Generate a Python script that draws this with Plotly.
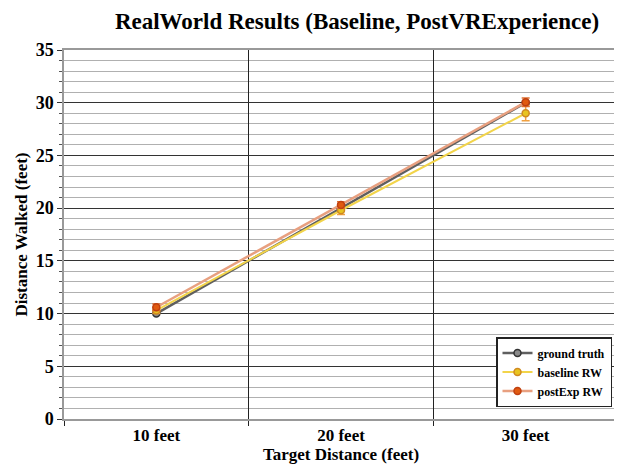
import plotly.graph_objects as go

categories = ["10 feet", "20 feet", "30 feet"]
ground_truth = [10, 20, 30]
baseline_rw = [10.3, 19.8, 29.0]
baseline_err = [0.3, 0.4, 0.7]
postexp_rw = [10.6, 20.3, 30.05]
postexp_err = [0.3, 0.3, 0.4]
y_ticks = [0, 5, 10, 15, 20, 25, 30, 35]

SERIF = "Liberation Serif"
B = lambda s: f"<b>{s}</b>"

# page body has an 8px offset; figure coords = screen coords - 8
OFF = 8
PL, PR, PT, PB = 64 - OFF, 618 - OFF, 50 - OFF, 419 - OFF
W, H = 622, 466
PW, PH = PR - PL, PB - PT

fig = go.Figure()
fig.add_trace(go.Scatter(
    x=categories, y=ground_truth, name=B("ground truth"), mode="lines+markers",
    line=dict(color="#5f5f5f", width=2.5),
    marker=dict(symbol="circle", size=7, color="#8a8a8a", line=dict(color="#333333", width=1.5)),
))
fig.add_trace(go.Scatter(
    x=categories, y=baseline_rw, name=B("baseline RW"), mode="lines+markers",
    line=dict(color="#f2d44a", width=2),
    marker=dict(symbol="circle", size=7, color="#e8c420", line=dict(color="#d08a20", width=1.5)),
    error_y=dict(type="data", array=baseline_err, color="#f0a040", thickness=1.5, width=4),
))
fig.add_trace(go.Scatter(
    x=categories, y=postexp_rw, name=B("postExp RW"), mode="lines+markers",
    line=dict(color="#e8a080", width=2.5),
    marker=dict(symbol="circle", size=7, color="#e05a10", line=dict(color="#c04010", width=1.5)),
    error_y=dict(type="data", array=postexp_err, color="#e07030", thickness=1.5, width=4),
))

fig.update_layout(
    width=W, height=H,
    margin=dict(l=PL, r=W - PR, t=PT, b=H - PB, autoexpand=False),
    paper_bgcolor="white", plot_bgcolor="white",
    font=dict(family=SERIF, color="black"),
    title=dict(text=B("RealWorld Results (Baseline, PostVRExperience)"),
               x=(357 - OFF) / W, xanchor="center", y=1 - (21 - OFF) / H, yanchor="middle",
               font=dict(family=SERIF, size=23, color="black")),
    showlegend=True,
    legend=dict(x=(612 - OFF - PL) / PW, xanchor="right", y=(PB - (337 - OFF)) / PH, yanchor="top",
                bordercolor="#222222", borderwidth=1.5, bgcolor="white",
                font=dict(family=SERIF, size=12), itemwidth=30),
)
fig.update_xaxes(
    type="category", tickson="boundaries", showgrid=True, gridcolor="#222222", gridwidth=1.2,
    tickvals=categories, ticktext=[B(c) for c in categories],
    ticks="outside", ticklen=5, tickcolor="#222222",
    showline=True, linecolor="#999999", linewidth=1.5, mirror=True,
    tickfont=dict(family=SERIF, size=17),
    title=dict(text=B("Target Distance (feet)"), font=dict(family=SERIF, size=17), standoff=2),
    range=[-0.5, 2.5], automargin=False,
)
fig.update_yaxes(
    range=[0, 35], tickvals=y_ticks, ticktext=[B(v) for v in y_ticks],
    showgrid=True, gridcolor="#333333", gridwidth=1.3,
    ticks="outside", ticklen=5, tickcolor="#333333", zeroline=False,
    showline=True, linecolor="#999999", linewidth=1.5, mirror=True,
    minor=dict(dtick=1, showgrid=True, gridcolor="#b0b0b0", gridwidth=1, ticks="outside", ticklen=3, tickcolor="#555555"),
    tickfont=dict(family=SERIF, size=18),
    title=dict(text=B("Distance Walked (feet)"), font=dict(family=SERIF, size=17), standoff=4),
    automargin=False,
)

fig.write_html("out.html")
